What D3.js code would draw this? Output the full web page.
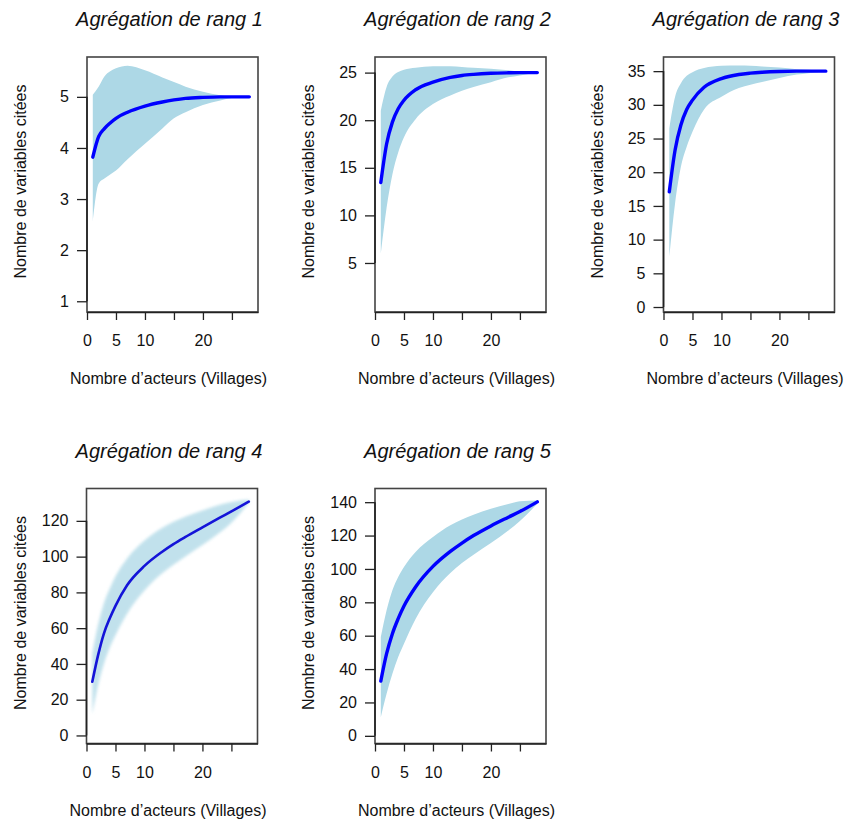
<!DOCTYPE html>
<html>
<head>
<meta charset="utf-8">
<script src="https://cdn.jsdelivr.net/npm/d3@7"></script>
<style>
  body { margin: 0; background: #fff; }
  text { font-family: "Liberation Sans", Arial, Helvetica, sans-serif; fill: #111; }
</style>
</head>
<body>
<div id="chart"></div>
<script>
// sites (number of villages) where values were read
const sites = [1, 2, 3, 4, 5, 7, 10, 13, 15, 17, 20, 23, 25, 28]

// rank 1
const mean1  = [3.82, 4.22, 4.38, 4.49, 4.58, 4.70, 4.82, 4.90, 4.94, 4.97, 4.99, 5.00, 5.00, 5.00]
const upper1 = [5.04, 5.20, 5.40, 5.50, 5.56, 5.61, 5.52, 5.38, 5.29, 5.20, 5.10, 5.03, 5.00, 5.00]
const lower1 = [2.55, 3.30, 3.40, 3.48, 3.56, 3.78, 4.08, 4.38, 4.58, 4.70, 4.84, 4.93, 4.98, 5.00]
// rank 2
const mean2  = [13.45, 17.5, 19.8, 21.2, 22.1, 23.2, 24.0, 24.5, 24.7, 24.82, 24.93, 24.98, 25.0, 25.0]
const upper2 = [21.0, 23.5, 24.6, 25.07, 25.3, 25.5, 25.67, 25.67, 25.6, 25.52, 25.4, 25.25, 25.12, 25.0]
const lower2 = [6.0, 10.8, 14.3, 16.6, 18.2, 20.1, 21.7, 22.6, 23.1, 23.5, 24.0, 24.5, 24.7, 25.0]
// rank 3
const mean3  = [17.1, 23.3, 27.0, 29.3, 30.7, 32.6, 33.9, 34.5, 34.7, 34.83, 34.95, 35.0, 35.0, 35.0]
const upper3 = [26.5, 31.2, 33.2, 34.3, 34.85, 35.45, 35.8, 35.84, 35.8, 35.7, 35.54, 35.3, 35.2, 35.0]
const lower3 = [7.5, 15.4, 20.8, 23.8, 26.0, 29.3, 31.2, 32.5, 33.0, 33.4, 34.0, 34.5, 34.7, 35.0]
// rank 4
const mean4  = [30.0, 44.9, 57.0, 65.4, 72.5, 84.0, 94.8, 102.6, 107.0, 110.9, 116.4, 121.8, 125.3, 130.8]
const upper4 = [46, 62, 74, 82, 89, 99, 109, 116, 119.5, 122.3, 125.8, 129, 130.6, 132]
const lower4 = [12, 28, 40, 49, 56, 68, 81, 90.5, 95.5, 100, 106.5, 113.5, 119, 130]
// rank 5
const mean5  = [32.8, 49.2, 61.2, 70.2, 77.8, 89.2, 101.5, 110.5, 115.5, 120.0, 125.8, 131.0, 134.4, 140.2]
const upper5 = [59.2, 75.2, 87.2, 95.2, 101.2, 110.2, 119.2, 126.2, 129.6, 132.4, 136.0, 138.9, 140.6, 141.0]
const lower5 = [11.2, 25.2, 37.2, 47.2, 55.2, 70.0, 86.0, 97.5, 103.5, 108.5, 115.5, 123.0, 128.8, 139.0]

const xTicks = [0, 5, 10, 15, 20, 25]
const xTickLabels = ["0", "5", "10", "", "20", ""]

const yTicks1 = [1, 2, 3, 4, 5]
const yTicks2 = [5, 10, 15, 20, 25]
const yTicks3 = [0, 5, 10, 15, 20, 25, 30, 35]
const yTicks4 = [0, 20, 40, 60, 80, 100, 120]
const yTicks5 = [0, 20, 40, 60, 80, 100, 120, 140]

const titles = ["Agrégation de rang 1", "Agrégation de rang 2", "Agrégation de rang 3",
                "Agrégation de rang 4", "Agrégation de rang 5"]
const xLabel = "Nombre d\u2019acteurs (Villages)"
const yLabel = "Nombre de variables citées"

const width = 850, height = 823

const panels = [
    { title: titles[0], mean: mean1, upper: upper1, lower: lower1, yDomain: [0.79, 5.78], yTicks: yTicks1, left: 87, top: 57 },
    { title: titles[1], mean: mean2, upper: upper2, lower: lower2, yDomain: [-0.15, 26.64], yTicks: yTicks2, left: 375, top: 57 },
    { title: titles[2], mean: mean3, upper: upper3, lower: lower3, yDomain: [-0.74, 37.1], yTicks: yTicks3, left: 663.5, top: 57 },
    { title: titles[3], mean: mean4, upper: upper4, lower: lower4, yDomain: [-4.5, 138.1], yTicks: yTicks4, left: 86.5, top: 488.5, fuzzy: true },
    { title: titles[4], mean: mean5, upper: upper5, lower: lower5, yDomain: [-4.6, 148.2], yTicks: yTicks5, left: 375, top: 488.5 }
]
const pw = 171, ph = 255

const svg = d3.select("#chart")
    .append("svg")
    .attr("width", width)
    .attr("height", height)

const defs = svg.append("defs")
defs.append("filter")
    .attr("id", "fuzz")
    .attr("x", "-10%").attr("y", "-10%").attr("width", "120%").attr("height", "120%")
    .append("feGaussianBlur")
    .attr("stdDeviation", 1.6)

panels.forEach(p => {
    const x = d3.scaleLinear()
        .domain([0, 29.5])
        .range([p.left, p.left + pw])

    const y = d3.scaleLinear()
        .domain(p.yDomain)
        .range([p.top + ph, p.top])

    const g = svg.append("g")

    const rows = sites.map((s, i) => ({ s, m: p.mean[i], lo: p.lower[i], hi: p.upper[i] }))

    // confidence band
    g.append("path")
        .datum(rows)
        .attr("fill", "#add8e6")
        .attr("opacity", p.fuzzy ? 0.75 : 1)
        .attr("filter", p.fuzzy ? "url(#fuzz)" : null)
        .attr("d", d3.area()
            .curve(d3.curveMonotoneX)
            .x(d => x(d.s))
            .y0(d => y(d.lo))
            .y1(d => y(d.hi)))

    // accumulation curve
    g.append("path")
        .datum(rows)
        .attr("fill", "none")
        .attr("stroke", p.fuzzy ? "#1414d8" : "#0000ff")
        .attr("stroke-width", p.fuzzy ? 2.6 : 3.4)
        .attr("stroke-linecap", "round")
        .attr("d", d3.line()
            .curve(d3.curveMonotoneX)
            .x(d => x(d.s))
            .y(d => y(d.m)))

    // box
    g.append("rect")
        .attr("x", p.left)
        .attr("y", p.top)
        .attr("width", pw)
        .attr("height", ph)
        .attr("fill", "none")
        .attr("stroke", "#444")
        .attr("stroke-width", 1.6)

    // x axis
    g.append("g")
        .attr("transform", `translate(0,${p.top + ph})`)
        .call(d3.axisBottom(x).tickValues(xTicks).tickSize(8).tickSizeOuter(0)
            .tickFormat((d, i) => xTickLabels[i]))
        .call(a => a.select(".domain").attr("stroke", "#222").attr("stroke-width", 1.6))
        .call(a => a.selectAll(".tick line").attr("stroke", "#222").attr("stroke-width", 1.3))
        .call(a => a.selectAll("text")
            .attr("y", 23)
            .attr("dy", 0)
            .attr("dominant-baseline", "hanging")
            .attr("font-size", 16)
            .attr("fill", "#111"))

    // y axis
    g.append("g")
        .attr("transform", `translate(${p.left},0)`)
        .call(d3.axisLeft(y).tickValues(p.yTicks).tickSize(10).tickSizeOuter(0).tickPadding(8)
            .tickFormat(d3.format("d")))
        .call(a => a.select(".domain").attr("stroke", "#222").attr("stroke-width", 1.6)
            .attr("d", `M0,${y(p.yTicks[0])}V${y(p.yTicks[p.yTicks.length - 1])}`))
        .call(a => a.selectAll(".tick line").attr("stroke", "#222").attr("stroke-width", 1.3))
        .call(a => a.selectAll("text")
            .attr("font-size", 16)
            .attr("fill", "#111"))

    // titles
    g.append("text")
        .attr("x", p.left + pw / 2 - 3)
        .attr("y", p.top - 31)
        .attr("text-anchor", "middle")
        .attr("font-size", 20)
        .attr("font-style", "italic")
        .text(p.title)

    g.append("text")
        .attr("x", p.left + pw / 2 - 4)
        .attr("y", p.top + ph + 72)
        .attr("text-anchor", "middle")
        .attr("font-size", 16)
        .text(xLabel)

    g.append("text")
        .attr("transform", `translate(${p.left - 61},${p.top + ph / 2 - 3}) rotate(-90)`)
        .attr("text-anchor", "middle")
        .attr("font-size", 16)
        .text(yLabel)
})
</script>
</body>
</html>
